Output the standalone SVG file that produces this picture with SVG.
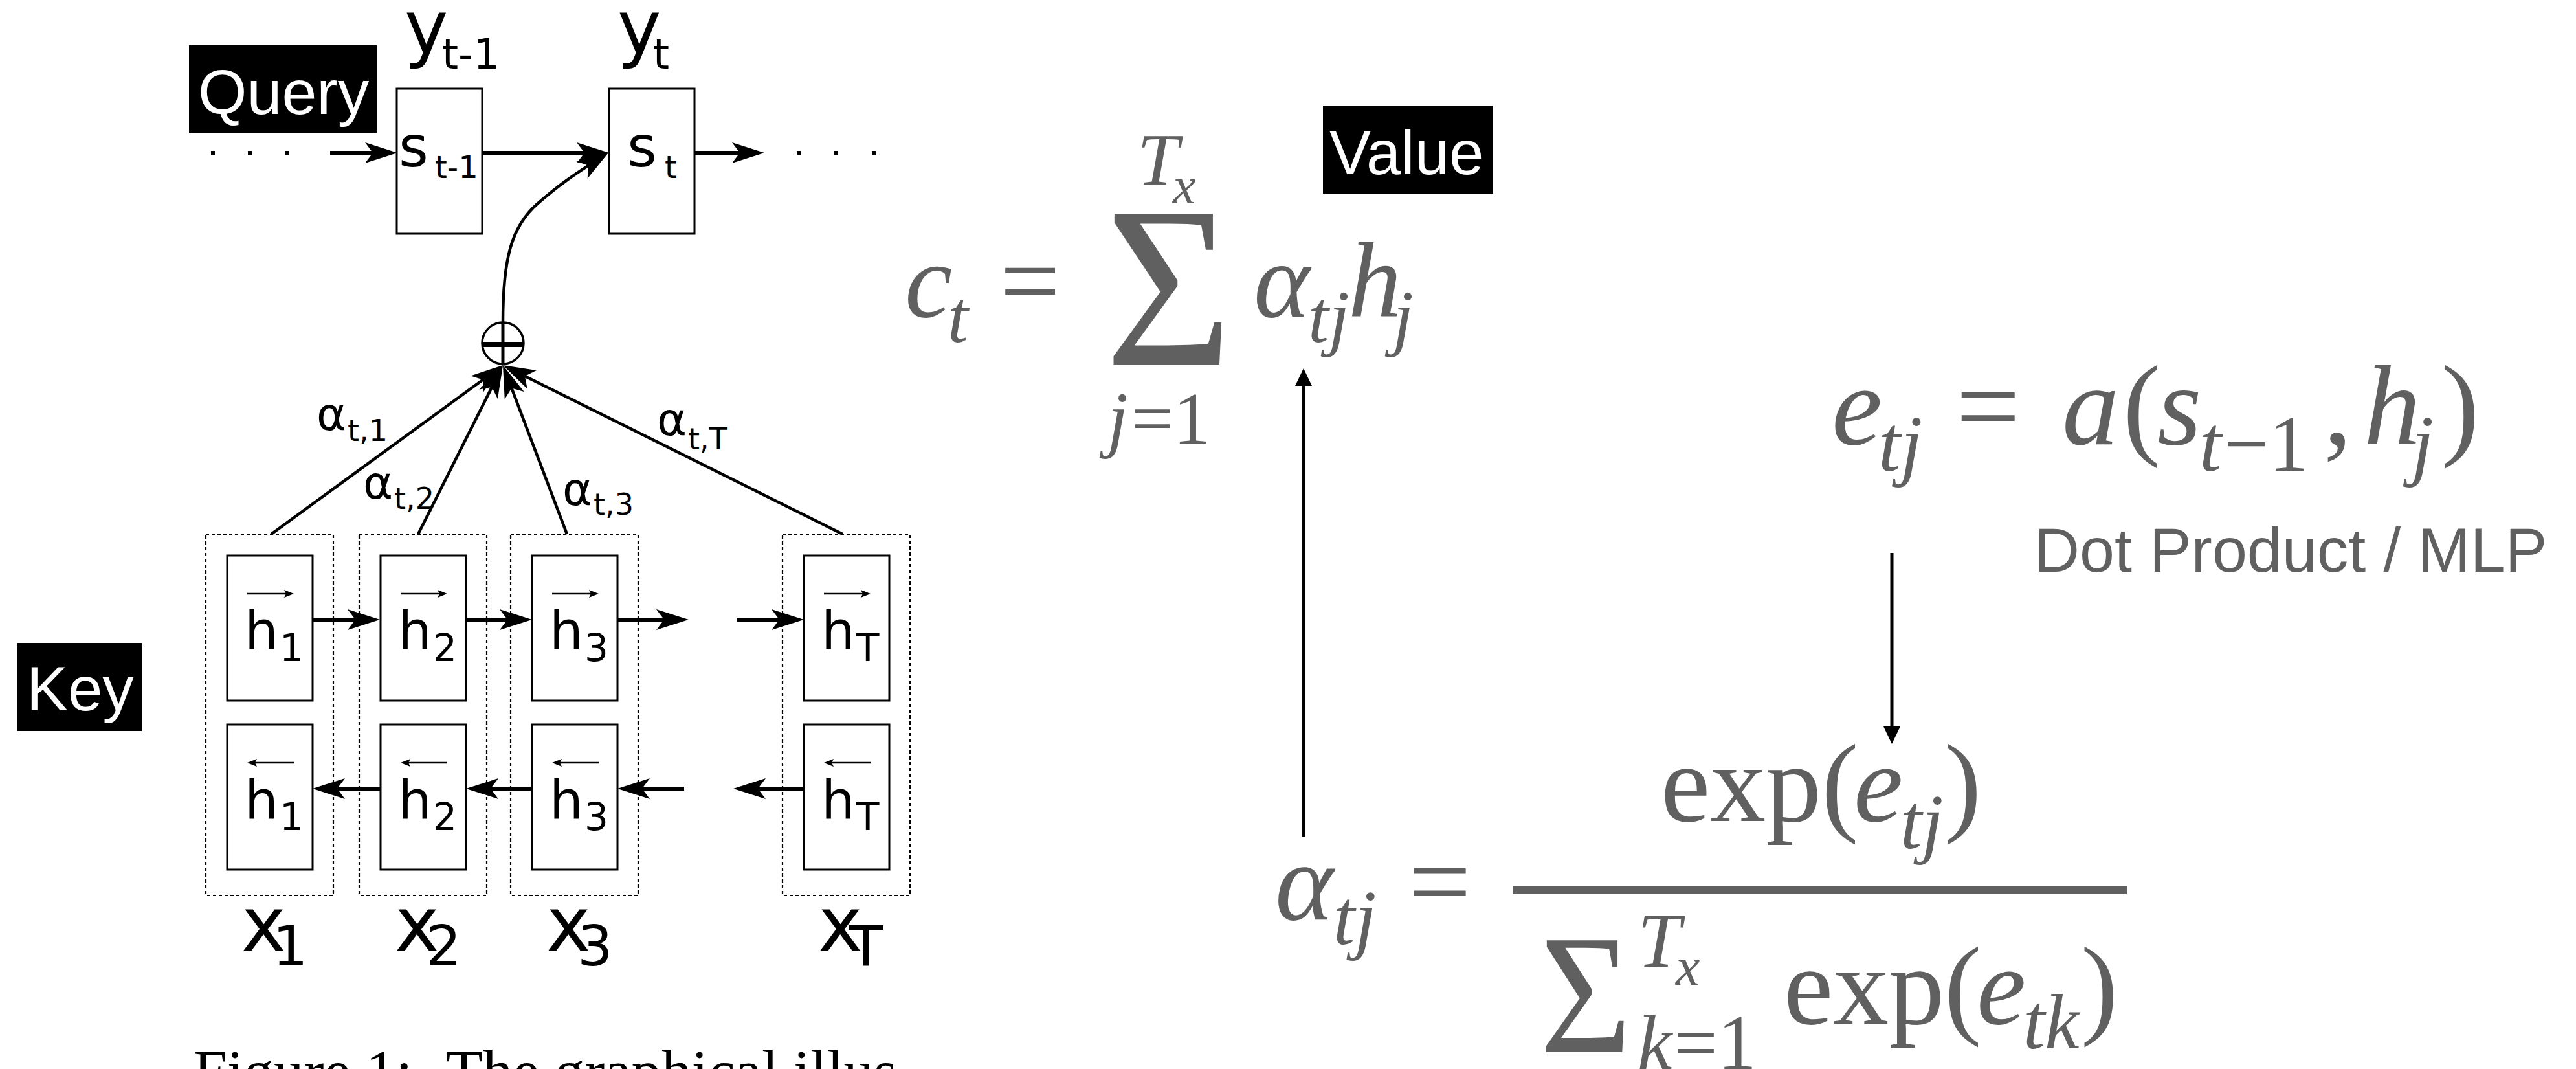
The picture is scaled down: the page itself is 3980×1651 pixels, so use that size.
<svg xmlns="http://www.w3.org/2000/svg" width="3980" height="1651" viewBox="0 0 3980 1651">
<style>
.box{fill:#fff;stroke:#000;stroke-width:3}
.col{fill:none;stroke:#000;stroke-width:2.2;stroke-dasharray:5 4}
.dv{font-family:"DejaVu Sans",sans-serif;fill:#000}
.lbl{font-family:"Liberation Sans",Arial,sans-serif;fill:#fff}
.tag{fill:#000}
.fm{font-family:"Liberation Serif","Times New Roman",serif;fill:#606060}
.it{font-style:italic}
.ln{fill:none;stroke:#000;stroke-width:6}
.att{fill:none;stroke:#000;stroke-width:4.5}
.thin{fill:none;stroke:#000;stroke-width:5}
.vec{fill:none;stroke:#000;stroke-width:2.5}
.dot{fill:#000}
</style>
<defs>
<marker id="ah" markerUnits="userSpaceOnUse" markerWidth="80" markerHeight="50" viewBox="-40 -25 80 50" refX="0" refY="0" orient="auto">
<path d="M20,0 L-30,-16 L-18,0 L-30,16 Z" fill="#000"/>
</marker>
<g id="vr"><path class="vec" d="M0,0 H64"/><path d="M72,0 L57,-6 L60,0 L57,6 Z" fill="#000"/></g>
<g id="vl"><path class="vec" d="M8,0 H72"/><path d="M0,0 L15,-6 L12,0 L15,6 Z" fill="#000"/></g>
</defs>
<rect width="3980" height="1651" fill="#fff"/>

<g id="query-tag"><rect class="tag" x="292" y="70" width="290" height="135"/><text class="lbl" x="306" y="176" font-size="97">Query</text></g>
<g id="key-tag"><rect class="tag" x="26" y="993" width="193" height="136"/><text class="lbl" x="41" y="1097" font-size="96">Key</text></g>
<g id="value-tag"><rect class="tag" x="2044" y="164" width="263" height="135"/><text class="lbl" x="2054" y="269" font-size="96">Value</text></g>

<g id="y-prev"><text class="dv" x="625" y="82" font-size="114">y</text><text class="dv" x="683" y="106" font-size="64">t-1</text></g>
<g id="y-t"><text class="dv" x="954" y="82" font-size="114">y</text><text class="dv" x="1009" y="106" font-size="64">t</text></g>

<g id="s-prev"><rect class="box" x="613" y="137" width="132" height="224"/><text class="dv" x="616" y="257" font-size="88">s</text><text class="dv" x="672" y="275" font-size="48">t-1</text></g>
<g id="s-t"><rect class="box" x="941" y="137" width="132" height="224"/><text class="dv" x="969" y="257" font-size="88">s</text><text class="dv" x="1027" y="275" font-size="48">t</text></g>

<g id="dots-left"><rect class="dot" x="326" y="233" width="6" height="7"/><rect class="dot" x="383" y="233" width="6" height="7"/><rect class="dot" x="441" y="233" width="6" height="7"/></g>
<g id="dots-right"><rect class="dot" x="1231" y="233" width="6" height="7"/><rect class="dot" x="1289" y="233" width="6" height="7"/><rect class="dot" x="1347" y="233" width="6" height="7"/></g>

<g id="sum-node"><circle cx="777" cy="530" r="32" fill="#fff" stroke="#000" stroke-width="3.5"/><path d="M745,532 H809" stroke="#000" stroke-width="8"/><path d="M777,498 V562" stroke="#000" stroke-width="5"/></g>

<g id="col1"><rect class="col" x="318" y="825" width="197" height="558"/>
<rect class="box" x="351" y="858" width="132" height="224"/><rect class="box" x="351" y="1119" width="132" height="224"/>
<use href="#vr" x="382" y="917"/><text class="dv" x="378" y="1002" font-size="82">h</text><text class="dv" x="432" y="1021" font-size="58">1</text>
<use href="#vl" x="382" y="1178"/><text class="dv" x="378" y="1264" font-size="82">h</text><text class="dv" x="432" y="1282" font-size="58">1</text>
<text class="dv" x="373" y="1468" font-size="116">x</text><text class="dv" x="421" y="1491" font-size="86">1</text></g>

<g id="col2"><rect class="col" x="555" y="825" width="197" height="558"/>
<rect class="box" x="588" y="858" width="132" height="224"/><rect class="box" x="588" y="1119" width="132" height="224"/>
<use href="#vr" x="619" y="917"/><text class="dv" x="615" y="1002" font-size="82">h</text><text class="dv" x="669" y="1021" font-size="58">2</text>
<use href="#vl" x="619" y="1178"/><text class="dv" x="615" y="1264" font-size="82">h</text><text class="dv" x="669" y="1282" font-size="58">2</text>
<text class="dv" x="610" y="1468" font-size="116">x</text><text class="dv" x="658" y="1491" font-size="86">2</text></g>

<g id="col3"><rect class="col" x="789" y="825" width="197" height="558"/>
<rect class="box" x="822" y="858" width="132" height="224"/><rect class="box" x="822" y="1119" width="132" height="224"/>
<use href="#vr" x="853" y="917"/><text class="dv" x="849" y="1002" font-size="82">h</text><text class="dv" x="903" y="1021" font-size="58">3</text>
<use href="#vl" x="853" y="1178"/><text class="dv" x="849" y="1264" font-size="82">h</text><text class="dv" x="903" y="1282" font-size="58">3</text>
<text class="dv" x="844" y="1468" font-size="116">x</text><text class="dv" x="892" y="1491" font-size="86">3</text></g>

<g id="colT"><rect class="col" x="1209" y="825" width="197" height="558"/>
<rect class="box" x="1242" y="858" width="132" height="224"/><rect class="box" x="1242" y="1119" width="132" height="224"/>
<use href="#vr" x="1273" y="917"/><text class="dv" x="1269" y="1002" font-size="82">h</text><text class="dv" x="1323" y="1021" font-size="58">T</text>
<use href="#vl" x="1273" y="1178"/><text class="dv" x="1269" y="1264" font-size="82">h</text><text class="dv" x="1323" y="1282" font-size="58">T</text>
<text class="dv" x="1264" y="1468" font-size="116">x</text><text class="dv" x="1312" y="1491" font-size="86">T</text></g>

<g id="weights">
<text class="dv" x="489" y="664" font-size="70">α</text><text class="dv" x="537" y="681" font-size="46">t,1</text>
<text class="dv" x="561" y="770" font-size="70">α</text><text class="dv" x="609" y="786" font-size="46">t,2</text>
<text class="dv" x="869" y="780" font-size="70">α</text><text class="dv" x="917" y="795" font-size="46">t,3</text>
<text class="dv" x="1015" y="672" font-size="70">α</text><text class="dv" x="1063" y="694" font-size="46">t,T</text>
</g>

<g id="connectors">
<path class="ln" d="M510,236 H594" marker-end="url(#ah)"/>
<path class="ln" d="M745,236 H921" marker-end="url(#ah)"/>
<path class="ln" d="M1073,236 H1161" marker-end="url(#ah)"/>
<path class="att" d="M777,498 C777,400 790,350 830,315 S895,265 924,246" marker-end="url(#ah)"/>
<path class="att" d="M419,825 L760.9,575.8" marker-end="url(#ah)"/>
<path class="att" d="M646,825 L768.1,581.9" marker-end="url(#ah)"/>
<path class="att" d="M876,825 L784.1,582.7" marker-end="url(#ah)"/>
<path class="att" d="M1302,825 L794.9,572.9" marker-end="url(#ah)"/>
<path class="ln" d="M483,957 H567" marker-end="url(#ah)"/>
<path class="ln" d="M720,957 H802" marker-end="url(#ah)"/>
<path class="ln" d="M954,957 H1044" marker-end="url(#ah)"/>
<path class="ln" d="M1138,957 H1222" marker-end="url(#ah)"/>
<path class="ln" d="M588,1218 H503" marker-end="url(#ah)"/>
<path class="ln" d="M822,1218 H740" marker-end="url(#ah)"/>
<path class="ln" d="M1057,1218 H974" marker-end="url(#ah)"/>
<path class="ln" d="M1242,1218 H1153" marker-end="url(#ah)"/>
<path class="thin" d="M2014,1292 V590"/><path d="M2014,569 L2027,596 L2001,596 Z" fill="#000"/>
<path class="thin" d="M2923,854 V1128"/><path d="M2923,1149 L2910,1122 L2936,1122 Z" fill="#000"/>
</g>

<g id="formula-context">
<text class="fm it" x="1398" y="489" font-size="165">c</text>
<text class="fm it" x="1464" y="528" font-size="115">t</text>
<text class="fm" x="1545" y="489" font-size="165">=</text>
<text class="fm" transform="translate(1713,563) scale(0.95,1)" x="-6" y="0" font-size="356">Σ</text>
<text class="fm it" x="1757" y="285" font-size="115">T</text>
<text class="fm it" x="1812" y="314" font-size="80">x</text>
<text class="fm it" x="1711" y="685" font-size="115">j</text>
<text class="fm" x="1748" y="685" font-size="115">=1</text>
<text class="fm it" x="1937" y="489" font-size="165">α</text>
<text class="fm it" x="2021" y="528" font-size="115">tj</text>
<text class="fm it" x="2083" y="489" font-size="165">h</text>
<text class="fm it" x="2152" y="528" font-size="115">j</text>
</g>

<g id="formula-score">
<text class="fm it" x="2830" y="686" font-size="176">e</text>
<text class="fm it" x="2902" y="727" font-size="123">tj</text>
<text class="fm" x="3022" y="686" font-size="176">=</text>
<text class="fm it" x="3186" y="686" font-size="176">a</text>
<text class="fm" x="3280" y="686" font-size="176">(</text>
<text class="fm it" x="3333" y="686" font-size="176">s</text>
<text class="fm it" x="3398" y="727" font-size="123">t</text>
<text class="fm" x="3436" y="727" font-size="123">−1</text>
<text class="fm" x="3590" y="686" font-size="176">,</text>
<text class="fm it" x="3652" y="686" font-size="176">h</text>
<text class="fm it" x="3726" y="727" font-size="123">j</text>
<text class="fm" x="3772" y="686" font-size="176">)</text>
</g>
<g id="score-note"><text class="fm" style="font-family:'Liberation Sans',Arial,sans-serif" x="3143" y="883" font-size="97">Dot Product / MLP</text></g>

<g id="formula-weight">
<text class="fm it" x="1970" y="1420" font-size="172">α</text>
<text class="fm it" x="2060" y="1458" font-size="120">tj</text>
<text class="fm" x="2176" y="1420" font-size="172">=</text>
<rect x="2337" y="1368" width="949" height="13" fill="#606060"/>
<text class="fm" x="2566" y="1268" font-size="172">exp(</text>
<text class="fm it" x="2864" y="1268" font-size="172">e</text>
<text class="fm it" x="2936" y="1310" font-size="120">tj</text>
<text class="fm" x="3004" y="1268" font-size="172">)</text>
<text class="fm" transform="translate(2384,1625) scale(0.92,1)" x="-5" y="0" font-size="264">Σ</text>
<text class="fm it" x="2530" y="1493" font-size="120">T</text>
<text class="fm it" x="2589" y="1521" font-size="84">x</text>
<text class="fm it" x="2530" y="1651" font-size="120">k</text>
<text class="fm" x="2586" y="1651" font-size="120">=1</text>
<text class="fm" x="2756" y="1581" font-size="172">exp(</text>
<text class="fm it" x="3054" y="1581" font-size="172">e</text>
<text class="fm it" x="3126" y="1619" font-size="120">tk</text>
<text class="fm" x="3215" y="1581" font-size="172">)</text>
</g>

<g id="caption"><text style="font-family:'Liberation Serif','Times New Roman',serif" fill="#000" font-size="93" y="1686"><tspan x="299">Figure 1:</tspan><tspan x="689">The graphical illus</tspan></text></g>
</svg>
